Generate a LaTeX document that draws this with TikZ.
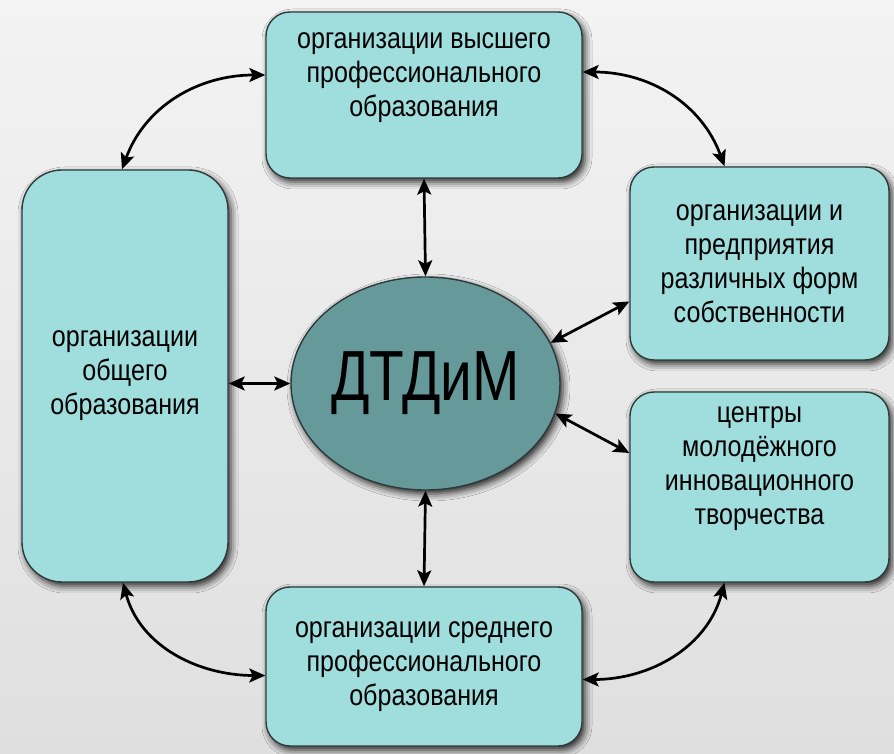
\documentclass[tikz,border=0pt]{standalone}
\usepackage{fontspec}
\setmainfont{Liberation Sans}[FakeStretch=0.85]
\newfontfamily\bigfont{Liberation Sans}[FakeStretch=0.8]
\usetikzlibrary{arrows.meta,shadows.blur,shapes.geometric}
\definecolor{bgtop}{HTML}{F3F3F3}
\definecolor{bgbot}{HTML}{DFDFDF}
\definecolor{boxfill}{HTML}{A0DEDD}
\definecolor{ellfill}{HTML}{669A9A}
\definecolor{edge}{HTML}{2E3A3A}
\tikzset{
  orgbox/.style={draw=edge, line width=1.4pt, fill=boxfill, rounded corners=24pt,
    align=center, inner sep=0pt, text=black,
    font=\fontsize{29.5}{34}\selectfont,
    blur shadow={shadow xshift=3pt, shadow yshift=-4pt, shadow blur radius=7pt, shadow opacity=85}},
  centre/.style={draw=edge, line width=1.4pt, fill=ellfill, ellipse, inner sep=0pt,
    minimum width=269pt, minimum height=213pt,
    font=\bigfont\fontsize{71}{80}\selectfont,
    blur shadow={shadow xshift=3pt, shadow yshift=-4pt, shadow blur radius=7pt, shadow opacity=85}},
  link/.style={line width=2.7pt, black,
    {Stealth[length=16pt,width=14pt,inset=3.5pt]}-{Stealth[length=16pt,width=14pt,inset=3.5pt]}}
}
\begin{document}
\begin{tikzpicture}[x=1pt,y=1pt]
\useasboundingbox (0,0) rectangle (894,753);
\shade[top color=bgtop, bottom color=bgbot] (0,0) rectangle (894,753);

\node[orgbox, minimum width=316pt, minimum height=166pt] (top) at (424,658)
  {организации высшего\\профессионального\\образования\\[6pt]};
\node[orgbox, rounded corners=40pt, minimum width=206pt, minimum height=412pt] (left) at (125,377)
  {организации\\общего\\образования};
\node[orgbox, minimum width=259pt, minimum height=193pt] (ru) at (759.5,489.5)
  {организации и\\предприятия\\различных форм\\собственности};
\node[orgbox, minimum width=259pt, minimum height=190pt] (rd) at (759.5,266)
  {центры\\молодёжного\\инновационного\\творчества\\[8pt]};
\node[orgbox, minimum width=316pt, minimum height=159pt] (bot) at (424,86.5)
  {организации среднего\\профессионального\\образования};
\node[centre] (ell) at (425.5,369.5) {ДТДиМ};

\draw[link] (top.south) -- (ell.north);
\draw[link] (ell.south) -- (bot.north);
\draw[link] (left.east |- ell.west) -- (ell.west);
\draw[link] (ell.18) -- ([yshift=-38pt]ru.west);
\draw[link] (ell.-13) -- ([yshift=34pt]rd.west);

\draw[link] ([yshift=20pt]top.west) to[out=180,in=70] ([xshift=-3pt]left.north);
\draw[link] ([yshift=23pt]top.east) to[out=0,in=110] ([xshift=-35pt]ru.north);
\draw[link] ([xshift=-35pt]rd.south) to[out=-105,in=0] ([yshift=-13pt]bot.east);
\draw[link] ([xshift=-2pt]left.south) to[out=-75,in=180] ([yshift=-9pt]bot.west);
\end{tikzpicture}
\end{document}
